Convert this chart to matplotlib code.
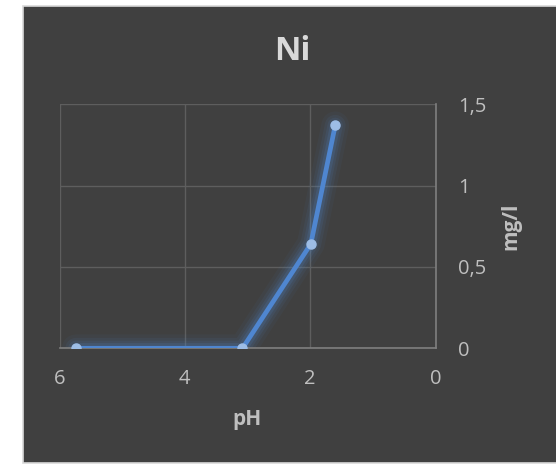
import matplotlib.pyplot as plt
from matplotlib.patches import Rectangle

# Ni koncentracija prema pH
ph = [5.74, 3.08, 1.99, 1.60]
ni = [0.0, 0.0, 0.641, 1.371]
x_ticks = [6, 4, 2, 0]
y_ticks = [0, 0.5, 1, 1.5]
y_tick_labels = ["0", "0,5", "1", "1,5"]

bg = "#404040"
txt = "#bfbfbf"
plt.rcParams["font.family"] = ["Open Sans", "DejaVu Sans"]

fig = plt.figure(figsize=(5.56, 4.71), dpi=100)
fig.patch.set_facecolor("white")
fig.patches.append(Rectangle((23 / 556, 1 - 462.7 / 471), 1.0, (462.7 - 5.7) / 471,
                             transform=fig.transFigure, facecolor=bg,
                             edgecolor="#d9d9d9", linewidth=1.2, zorder=-1))

ax = fig.add_axes([59.5 / 556, 1 - 348.3 / 471, 376 / 556, 244 / 471])
ax.set_facecolor(bg)

# sjaj oko linije
for lw, a in [(20, 0.06), (15, 0.09), (11, 0.12), (7.5, 0.18)]:
    ax.plot(ph, ni, color="#4f81bd", linewidth=lw, alpha=a,
            solid_capstyle="round", solid_joinstyle="round", zorder=2)
ax.plot(ph, ni, color="#4f86d0", linewidth=3.4, zorder=3,
        solid_capstyle="round", solid_joinstyle="round")
ax.plot(ph, ni, linestyle="none", marker="o", markersize=6.5,
        markerfacecolor="#9dbde6", markeredgecolor="#9dbde6", zorder=4)

ax.set_xlim(6, 0)
ax.set_ylim(0, 1.5)
ax.set_xticks(x_ticks)
ax.set_xticklabels([str(t) for t in x_ticks])
ax.set_yticks(y_ticks)
ax.set_yticklabels(y_tick_labels)
ax.yaxis.tick_right()
ax.yaxis.set_label_position("right")
ax.tick_params(axis="both", length=0, colors=txt, labelsize=14.5)
ax.tick_params(axis="x", pad=15)
ax.tick_params(axis="y", pad=16)

ax.grid(True, color="#5e5e5e", linewidth=1.0)
ax.set_axisbelow(True)
for side in ["top", "left"]:
    ax.spines[side].set_visible(False)
for side in ["bottom", "right"]:
    ax.spines[side].set_color("#7f7f7f")
    ax.spines[side].set_linewidth(1.2)

ax.set_xlabel("pH", color=txt, fontsize=15, fontweight="bold", labelpad=14)
ax.set_ylabel("mg/l", color=txt, fontsize=15, fontweight="bold", labelpad=10)
fig.text(292 / 556, 1 - 52 / 471, "Ni", color="#d9d9d9", fontsize=23.5,
         fontweight="bold", ha="center", va="center")

plt.savefig("out.png", dpi=100)
